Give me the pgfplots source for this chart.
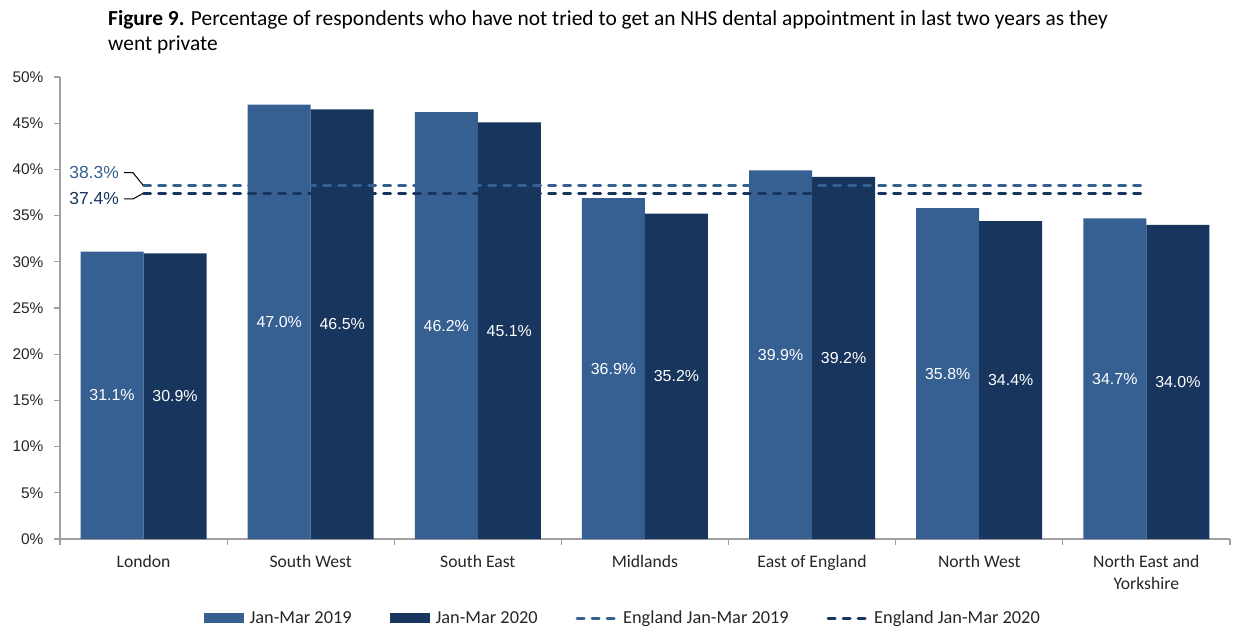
\documentclass[border=0pt]{standalone}
\usepackage{pgfplots}
\pgfplotsset{compat=1.18}
\usepackage{fontspec}
\setmainfont{Carlito}
\newfontfamily\arial{Liberation Sans}
\definecolor{c19}{RGB}{55,96,146}
\definecolor{c20}{RGB}{24,54,93}
\definecolor{axgray}{RGB}{160,160,160}
\begin{document}
\begin{tikzpicture}
\path[use as bounding box] (0,0) rectangle (1242bp,630bp);
\node[anchor=north west, align=left, font=\fontsize{21.5}{25}\selectfont, inner sep=0pt] at (108bp,620bp) {\textbf{Figure 9.} Percentage of respondents who have not tried to get an NHS dental appointment in last two years as they\\went private};
\begin{axis}[
  at={(60bp,91bp)}, anchor=south west,
  width=1170bp, height=462bp, scale only axis,
  xmin=-0.5, xmax=6.5, ymin=0, ymax=50,
  clip=false,
  axis x line*=bottom, axis y line*=left,
  axis line style={axgray, line width=1.2bp},
  ytick={0,5,...,50},
  yticklabel={\pgfmathprintnumber{\tick}\%},
  yticklabel style={font=\fontsize{15.5}{18}\arial, /pgf/number format/assume math mode=true, text=black!85, xshift=-7bp},
  xtick={-0.5,0.5,...,6.5}, xticklabels={},
  extra x ticks={0,1,2,3,4,5,6},
  extra x tick labels={London, South West, South East, Midlands, East of England, North West, {North East and\\Yorkshire}},
  extra x tick style={major tick length=0pt, tick style={draw=none}, tick label style={font=\fontsize{17.7}{22}\selectfont, align=center, anchor=north, yshift=-13bp, text=black!85}},
  tick align=outside, major tick length=6bp,
  tick style={axgray, line width=1.2bp},
  legend style={at={(0.481,-0.171)}, anchor=center, draw=none, fill=none,
    legend columns=4, font=\fontsize{18.4}{20}\selectfont, text=black!85,
    /tikz/every even column/.append style={column sep=36bp},
    /tikz/every odd column/.append style={column sep=4bp}},
  legend cell align=left,
  barlab/.style={
    nodes near coords={\pgfmathprintnumber[fixed,fixed zerofill,precision=1,assume math mode=true]{\pgfplotspointmeta}\%},
    visualization depends on={y \as \rawy},
    every node near coord/.append style={anchor=center, text=white, font=\fontsize{16}{18}\arial,
      xshift=#1, shift={(axis direction cs:0,-\rawy/2)}}},
]
\addplot[ybar, bar width=63bp, bar shift=-31.5bp, fill=c19, draw=none, barlab=-31.5bp,
  legend image code/.code={\fill[c19] (0bp,-5bp) rectangle (40bp,5bp);}]
  coordinates {(0,31.1) (1,47.0) (2,46.2) (3,36.9) (4,39.9) (5,35.8) (6,34.7)};
\addlegendentry{Jan-Mar 2019}
\addplot[ybar, bar width=63bp, bar shift=31.5bp, fill=c20, draw=none, barlab=31.5bp,
  legend image code/.code={\fill[c20] (0bp,-5bp) rectangle (40bp,5bp);}]
  coordinates {(0,30.9) (1,46.5) (2,45.1) (3,35.2) (4,39.2) (5,34.4) (6,34.0)};
\addlegendentry{Jan-Mar 2020}
\addplot[c19, line width=3bp, dash pattern=on 7bp off 8bp, line cap=round, no marks,
  legend image code/.code={\draw[c19, line width=3bp, dash pattern=on 7bp off 8bp, line cap=round] (1.5bp,0bp) -- (40bp,0bp);}]
  coordinates {(0,38.3) (6,38.3)};
\addlegendentry{England Jan-Mar 2019}
\addplot[c20, line width=3bp, dash pattern=on 7bp off 8bp, line cap=round, no marks,
  legend image code/.code={\draw[c20, line width=3bp, dash pattern=on 7bp off 8bp, line cap=round] (1.5bp,0bp) -- (40bp,0bp);}]
  coordinates {(0,37.4) (6,37.4)};
\addlegendentry{England Jan-Mar 2020}
\draw[black, line width=1bp] (axis cs:-0.117,39.64) -- (axis cs:-0.063,39.64) -- (axis cs:-0.003,38.3);
\draw[black, line width=1bp] (axis cs:-0.117,36.80) -- (axis cs:-0.063,36.80) -- (axis cs:-0.003,37.4);
\node[anchor=east, inner sep=0pt, text=c19, font=\fontsize{17.5}{20}\arial] at (axis cs:-0.147,39.64) {38.3\%};
\node[anchor=east, inner sep=0pt, text=c20, font=\fontsize{17.5}{20}\arial] at (axis cs:-0.147,36.80) {37.4\%};
\end{axis}
\end{tikzpicture}
\end{document}
